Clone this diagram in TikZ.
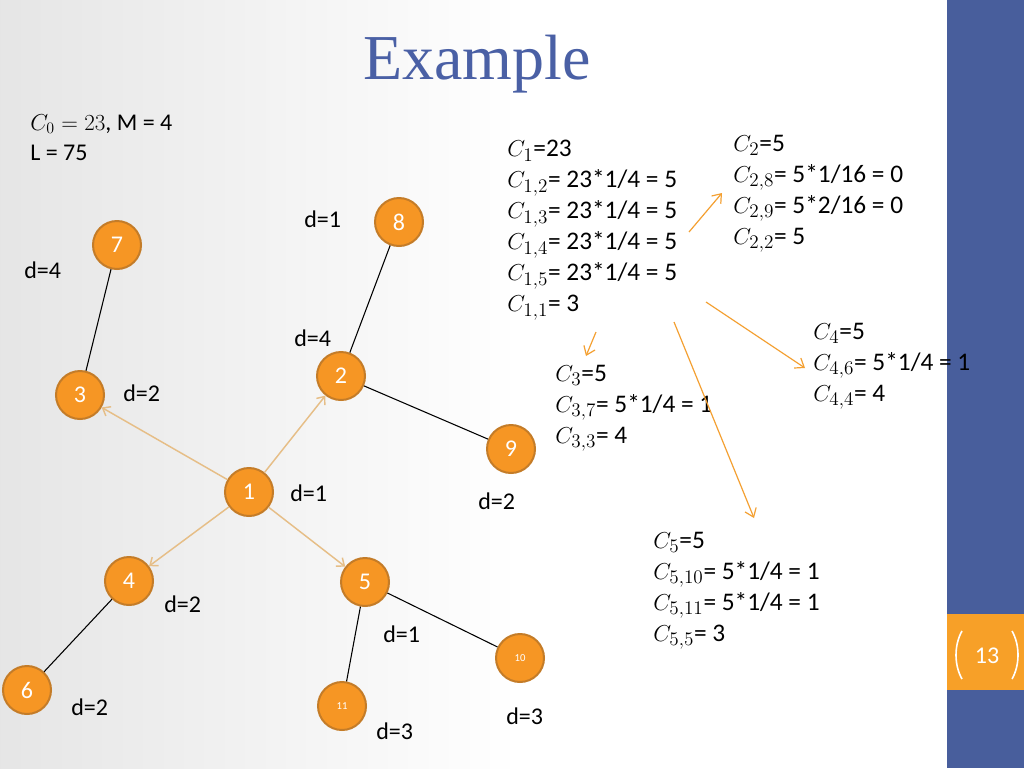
\documentclass[tikz,border=0pt]{standalone}
\usepackage{fontspec}
\setmainfont{Carlito}
\newfontfamily\titlefont{Liberation Serif}
\usetikzlibrary{arrows.meta}
\definecolor{slideblue}{RGB}{72,94,156}
\definecolor{titleblue}{RGB}{74,96,165}
\definecolor{nodeorange}{RGB}{246,150,36}
\definecolor{nodeborder}{RGB}{196,124,40}
\definecolor{tanline}{RGB}{230,190,135}
\definecolor{arroworange}{RGB}{244,160,50}
\definecolor{numorange}{RGB}{247,160,40}
\begin{document}
\begin{tikzpicture}[x=0.75pt,y=-0.75pt,
  vertex/.style={circle, fill=nodeorange, draw=nodeborder, line width=1.5pt,
    minimum size=36pt, inner sep=0pt, text=white, font=\fontsize{18}{20}\selectfont},
  smallvertex/.style={vertex, font=\fontsize{8}{9}\selectfont},
  lbl/.style={font=\fontsize{18}{22}\selectfont, anchor=west, inner sep=0pt},
  block/.style={font=\fontsize{19}{23.25}\selectfont, align=left, anchor=north west, inner sep=0pt},
  given/.style={font=\fontsize{18}{22.5}\selectfont, align=left, anchor=north west, inner sep=0pt},
  tree/.style={draw=black, line width=0.8pt},
  flow/.style={draw=tanline, line width=1.1pt, -{Straight Barb[length=5pt,width=8pt]}},
  hint/.style={draw=arroworange, line width=0.9pt, -{Straight Barb[length=6pt,width=9pt]}}]
\useasboundingbox (0,0) rectangle (1024,768);
% background
\fill[white] (0,0) rectangle (1024,768);
\shade[left color=black!10, right color=white] (0,0) rectangle (520,768);
\fill[slideblue] (947,0) rectangle (1024,768);
\fill[numorange] (947,614) rectangle (1024,690);
\draw[white, line width=1.2pt] (962,631) .. controls (954,645) and (954,665) .. (962,679);
\draw[white, line width=1.2pt] (1012,631) .. controls (1020,645) and (1020,665) .. (1012,679);
\node[text=white, font=\fontsize{18}{20}\selectfont, inner sep=0pt] (pagenum) at (987,656) {13};
% title
\node[text=titleblue, font=\titlefont\fontsize{48}{52}\selectfont, anchor=base, inner sep=0pt] (title) at (477,79) {Example};
% top-left text
\node[given] (given) at (30,114) {$C_0 = 23$, M = 4\\L = 75};
% vertices
\node[vertex] (n7) at (117,245) {7};
\node[vertex] (n8) at (399,222) {8};
\node[vertex] (n3) at (80,395) {3};
\node[vertex] (n2) at (341,376) {2};
\node[vertex] (n9) at (511,449) {9};
\node[vertex] (n1) at (249,492) {1};
\node[vertex] (n4) at (129,581) {4};
\node[vertex] (n5) at (365,582) {5};
\node[vertex] (n6) at (27,690) {6};
\node[smallvertex] (n10) at (520,658) {10};
\node[smallvertex] (n11) at (342,706) {11};
% tree edges
\draw[tree] (n7) -- (n3);
\draw[tree] (n8) -- (n2);
\draw[tree] (n2) -- (n9);
\draw[tree] (n4) -- (n6);
\draw[tree] (n5) -- (n11);
\draw[tree] (n5) -- (n10);
% flow arrows
\draw[flow] (n1) -- (n3);
\draw[flow] (n1) -- (n2);
\draw[flow] (n1) -- (n4);
\draw[flow] (n1) -- (n5);
% d labels
\node[lbl] (d7) at (24,270) {d=4};
\node[lbl] (d8) at (304,219) {d=1};
\node[lbl] (d2) at (294,338) {d=4};
\node[lbl] (d3) at (123,393) {d=2};
\node[lbl] (d1) at (290,493) {d=1};
\node[lbl] (d9) at (478,501) {d=2};
\node[lbl] (d4) at (164,604) {d=2};
\node[lbl] (d5) at (383,634) {d=1};
\node[lbl] (d6) at (71,707) {d=2};
\node[lbl] (d11) at (376,731) {d=3};
\node[lbl] (d10) at (506,716) {d=3};
% computation blocks
\node[block] (b1) at (507,140) {$C_1$=23\\$C_{1,2}$= 23*1/4 = 5\\$C_{1,3}$= 23*1/4 = 5\\$C_{1,4}$= 23*1/4 = 5\\$C_{1,5}$= 23*1/4 = 5\\$C_{1,1}$= 3};
\node[block] (b2) at (733,135) {$C_2$=5\\$C_{2,8}$= 5*1/16 = 0\\$C_{2,9}$= 5*2/16 = 0\\$C_{2,2}$= 5};
\node[block] (b3) at (555,365) {$C_3$=5\\$C_{3,7}$= 5*1/4 = 1\\$C_{3,3}$= 4};
\node[block] (b4) at (813,323) {$C_4$=5\\$C_{4,6}$= 5*1/4 = 1\\$C_{4,4}$= 4};
\node[block] (b5) at (653,532) {$C_5$=5\\$C_{5,10}$= 5*1/4 = 1\\$C_{5,11}$= 5*1/4 = 1\\$C_{5,5}$= 3};
% hint arrows
\coordinate (a2s) at (689,232); \coordinate (a2e) at (722,193);
\coordinate (a4s) at (706,302); \coordinate (a4e) at (805,368);
\coordinate (a3s) at (596,332); \coordinate (a3e) at (586,356);
\coordinate (a5s) at (674,322); \coordinate (a5e) at (754,518);
\draw[hint] (a2s) -- (a2e);
\draw[hint] (a4s) -- (a4e);
\draw[hint] (a3s) -- (a3e);
\draw[hint] (a5s) -- (a5e);
\end{tikzpicture}
\end{document}
